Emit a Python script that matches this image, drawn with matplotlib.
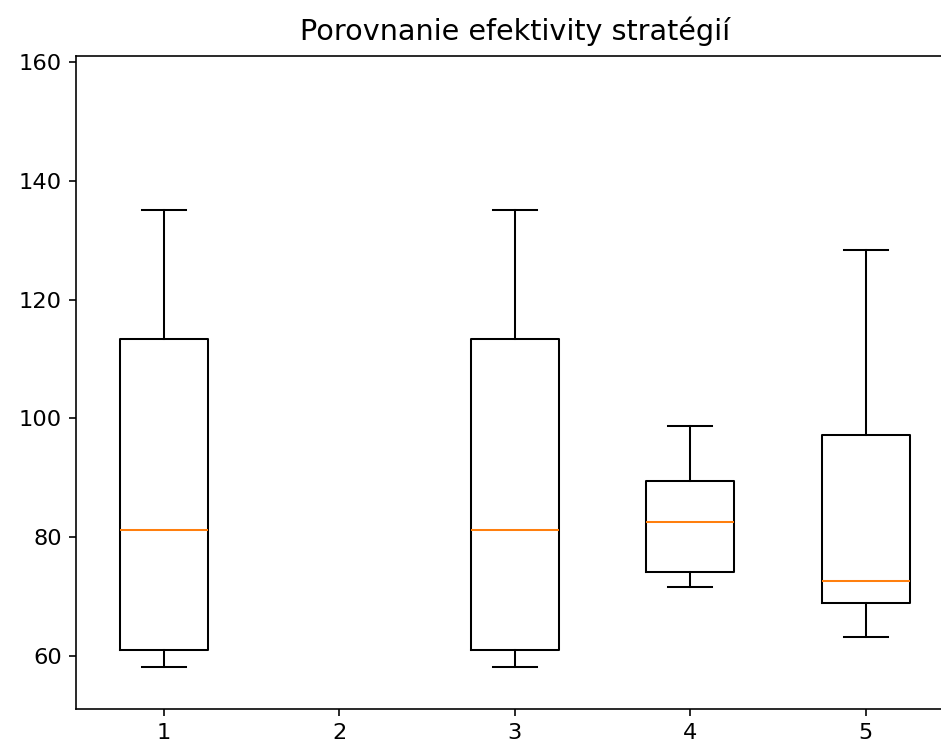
import matplotlib
matplotlib.use("Agg")
import matplotlib.pyplot as plt

# hodnoty odcitane z obrazku (strategia 2 nema data)
strategie = ["1", "2", "3", "4", "5"]
pozicie = [1, 3, 4, 5]
whislo = [58.2, 58.2, 71.6, 63.2]
q1 = [61.1, 61.1, 74.2, 69.0]
median = [81.2, 81.2, 82.5, 72.7]
q3 = [113.3, 113.3, 89.5, 97.2]
whishi = [135.0, 135.0, 98.8, 128.4]

stats = []
for i in range(len(pozicie)):
    stats.append({
        "whislo": whislo[i], "q1": q1[i], "med": median[i],
        "q3": q3[i], "whishi": whishi[i], "fliers": [],
    })

dpi = 147
fig = plt.figure(figsize=(942 / dpi, 747 / dpi), dpi=dpi)
# obrazok je orezany vpravo -> os konci presne na okraji
ax = fig.add_axes([76 / 942, 1 - 709 / 747, 866 / 942, 653 / 747])

ax.bxp(stats, positions=pozicie, widths=0.5)
ax.set_xlim(0.5, 5.435)
ax.set_ylim(51.1, 161.0)
ax.set_xticks(range(1, 6))
ax.set_xticklabels(strategie)
ax.tick_params(labelsize=11)
ax.spines["right"].set_visible(False)
ax.set_title("Porovnanie efektivity stratégií", fontsize=14, pad=8, x=0.5 * 878 / 866)

plt.savefig("out.png", dpi=dpi)
